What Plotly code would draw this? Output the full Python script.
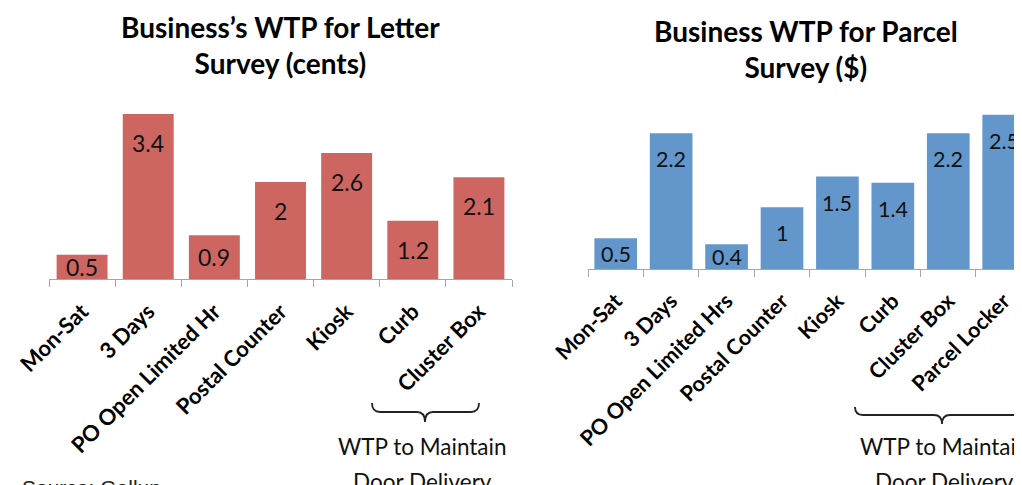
import plotly.graph_objects as go

# The page body has an 8px margin, so the figure is drawn 8px in from the
# top-left corner; it is sized so that it ends exactly at the window edge.
OFF = 8
W, H = 1022 - OFF, 485 - OFF

# ---------------- data ----------------
letter_categories = ["Mon-Sat", "3 Days", "PO Open Limited Hr", "Postal Counter",
                     "Kiosk", "Curb", "Cluster Box"]
letter_values = [0.5, 3.4, 0.9, 2, 2.6, 1.2, 2.1]

parcel_categories = ["Mon-Sat", "3 Days", "PO Open Limited Hrs", "Postal Counter",
                     "Kiosk", "Curb", "Cluster Box", "Parcel Locker"]
parcel_values = [0.5, 2.2, 0.4, 1, 1.5, 1.4, 2.2, 2.5]

letter_title = "Business’s WTP for Letter<br>Survey (cents)"
parcel_title = "Business WTP for Parcel<br>Survey ($)"
brace_line1 = "WTP to Maintain"
brace_line2 = "Door Delivery"
source_text = "Source: Gallup"

# ---------------- style ----------------
RED = "#CD6660"
BLUE = "#6397CB"
AXIS_GRAY = "#A6A6A6"
FONT = "Lato"


def X(px):
    return (px - OFF) / W


def Y(py):
    return 1 - (py - OFF) / H


fig = go.Figure()

fig.add_trace(go.Bar(x=letter_categories, y=letter_values, marker_color=RED,
                     marker_line_width=0, xaxis="x", yaxis="y", hoverinfo="skip"))
fig.add_trace(go.Bar(x=parcel_categories, y=parcel_values, marker_color=BLUE,
                     marker_line_width=0, xaxis="x2", yaxis="y2", hoverinfo="skip"))

annotations = []

# value labels (inside end; centred in the bar when the bar is short)
L_YMAX, R_YMAX = 4.0, 3.0
L_PPU = (279 - 85) / L_YMAX
R_PPU = (269 - 84) / R_YMAX
for cats, vals, xr, yr, ppu, off, fs in [
    (letter_categories, letter_values, "x", "y", L_PPU, 29, 23),
    (parcel_categories, parcel_values, "x2", "y2", R_PPU, 26, 21.5),
]:
    for c, v in zip(cats, vals):
        yc = v - min(off / ppu, v / 2)
        annotations.append(dict(x=c, y=yc, xref=xr, yref=yr, text=str(v),
                                showarrow=False, yanchor="middle", xanchor="center",
                                font=dict(family=FONT, size=fs, color="#111")))

# titles
annotations.append(dict(x=X(280), y=Y(8), xref="paper", yref="paper", text=letter_title,
                        showarrow=False, xanchor="center", yanchor="top",
                        font=dict(family=FONT, size=28, color="black", weight="bold")))
annotations.append(dict(x=X(806), y=Y(12), xref="paper", yref="paper", text=parcel_title,
                        showarrow=False, xanchor="center", yanchor="top",
                        font=dict(family=FONT, size=28, color="black", weight="bold")))

# brace captions
for cx in (422, 944):
    for txt, cy in ((brace_line1, 446), (brace_line2, 481)):
        annotations.append(dict(x=X(cx), y=Y(cy), xref="paper", yref="paper", text=txt,
                                showarrow=False, xanchor="center", yanchor="middle",
                                font=dict(family=FONT, size=22.5, color="#111")))

# source
annotations.append(dict(x=X(20), y=Y(487), xref="paper", yref="paper", text=source_text,
                        showarrow=False, xanchor="left", yanchor="middle",
                        font=dict(family="Liberation Sans", size=21, color="#222")))


def brace_path(x0, x1, xm, ytop, ybar, ystem, r=8):
    pts = [
        ("M", [(x0, ytop)]),
        ("Q", [(x0, ybar), (x0 + r, ybar)]),
        ("L", [(xm - r, ybar)]),
        ("Q", [(xm, ybar), (xm, ystem)]),
        ("Q", [(xm, ybar), (xm + r, ybar)]),
        ("L", [(x1 - r, ybar)]),
        ("Q", [(x1, ybar), (x1, ytop)]),
    ]
    s = ""
    for cmd, ps in pts:
        s += cmd + " " + " ".join(f"{X(a):.5f},{Y(b):.5f}" for a, b in ps) + " "
    return s.strip()


shapes = [
    dict(type="path", xref="paper", yref="paper",
         path=brace_path(372, 479, 425, 403, 412, 422),
         line=dict(color="#222", width=1.8)),
    dict(type="path", xref="paper", yref="paper",
         path=brace_path(855, 1032, 942, 407, 415, 424),
         line=dict(color="#222", width=1.8)),
]

tick_common = dict(showline=True, linecolor=AXIS_GRAY, linewidth=1, ticks="outside",
                   tickson="boundaries", ticklen=7, tickcolor=AXIS_GRAY, tickwidth=1,
                   tickangle=-45, showgrid=False, zeroline=False, fixedrange=True,
                   automargin=False, ticklabelstandoff=10)

fig.update_layout(
    width=W, height=H,
    margin=dict(l=0, r=0, t=0, b=0, autoexpand=False),
    paper_bgcolor="white", plot_bgcolor="white",
    showlegend=False,
    bargap=0.23,
    xaxis=dict(domain=[X(49), X(512)], range=[-0.5, 6.5], anchor="y",
               tickfont=dict(family=FONT, size=22, color="black", weight="bold"),
               **tick_common),
    yaxis=dict(domain=[Y(279), Y(85)], range=[0, L_YMAX], visible=False, fixedrange=True,
               automargin=False),
    xaxis2=dict(domain=[X(588), 1.0], range=[-0.5, 7.33], anchor="y2",
                tickfont=dict(family=FONT, size=21.5, color="black", weight="bold"),
                **tick_common),
    yaxis2=dict(domain=[Y(269), Y(84)], range=[0, R_YMAX], visible=False, fixedrange=True,
                anchor="x2", automargin=False),
    annotations=annotations,
    shapes=shapes,
)

fig.write_html("out.html", config={"displayModeBar": False})
